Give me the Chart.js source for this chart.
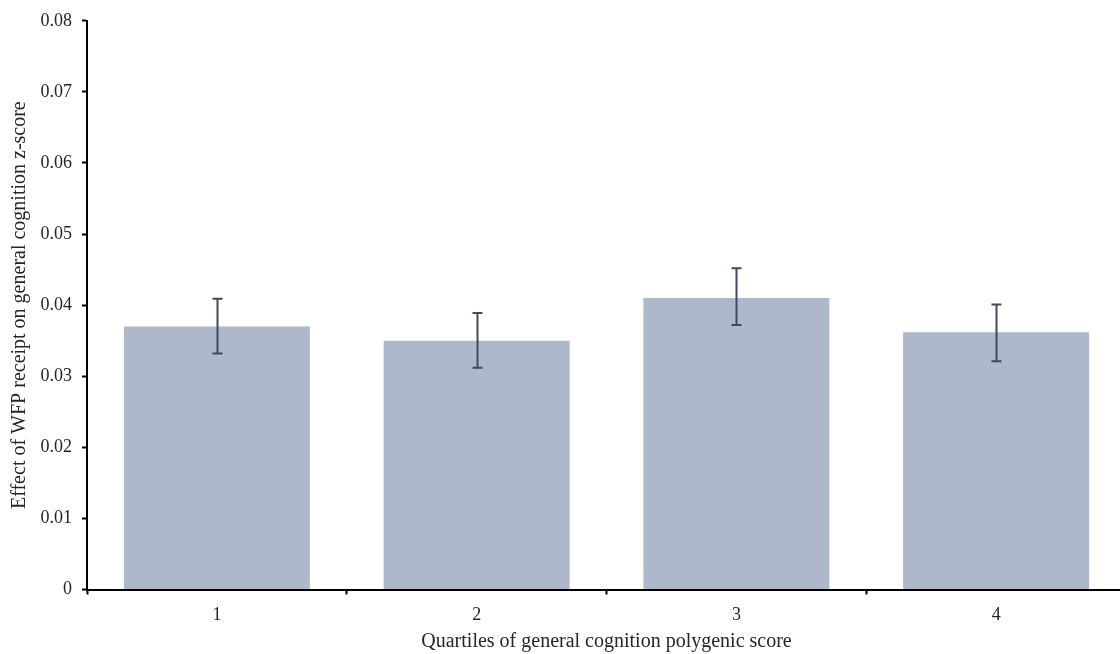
<!DOCTYPE html>
<html>
<head>
<meta charset="utf-8">
<script src="https://cdn.jsdelivr.net/npm/chart.js@4"></script>
<style>
  html, body { margin: 0; padding: 0; background: #fff; overflow: hidden; }
  #wrap { width: 1120px; height: 654px; overflow: hidden; }
  #box { width: 1128px; height: 654px; position: relative; }
</style>
</head>
<body>
<div id="wrap"><div id="box"><canvas id="c"></canvas></div></div>
<script>
const quartiles = ['1', '2', '3', '4'];
const effects = [0.0370, 0.0350, 0.0410, 0.0362];
const ciLow = [0.0332, 0.0312, 0.0372, 0.0321];
const ciHigh = [0.0409, 0.0389, 0.0452, 0.0401];
const yTicks = [0, 0.01, 0.02, 0.03, 0.04, 0.05, 0.06, 0.07, 0.08];

const serif = '"Liberation Serif", "Times New Roman", serif';
const ink = '#262626';

const errorBars = {
  id: 'errorBars',
  afterDatasetsDraw(chart) {
    const {ctx, scales} = chart;
    const meta = chart.getDatasetMeta(0);
    ctx.save();
    ctx.strokeStyle = '#3e4b60';
    ctx.lineWidth = 2;
    meta.data.forEach((bar, i) => {
      const x = Math.round(bar.x) + 0.5;
      const yHi = scales.y.getPixelForValue(ciHigh[i]);
      const yLo = scales.y.getPixelForValue(ciLow[i]);
      ctx.beginPath();
      ctx.moveTo(x, yHi);
      ctx.lineTo(x, yLo);
      ctx.moveTo(x - 5, yHi);
      ctx.lineTo(x + 5, yHi);
      ctx.moveTo(x - 5, yLo);
      ctx.lineTo(x + 5, yLo);
      ctx.stroke();
    });
    ctx.restore();
  }
};

new Chart(document.getElementById('c'), {
  type: 'bar',
  data: {
    labels: quartiles,
    datasets: [{
      data: effects,
      backgroundColor: '#adb8ca',
      borderWidth: 0,
      categoryPercentage: 0.716,
      barPercentage: 1
    }]
  },
  plugins: [errorBars],
  options: {
    responsive: true,
    maintainAspectRatio: false,
    animation: false,
    layout: {padding: {top: 19, right: 2, bottom: 0, left: 0}},
    plugins: {legend: {display: false}, tooltip: {enabled: false}},
    scales: {
      x: {
        offset: true,
        afterFit: s => { s.height = 64.5; },
        grid: {offset: true, drawOnChartArea: false, tickLength: 5, tickColor: '#000', tickWidth: 2},
        border: {color: '#000', width: 2},
        ticks: {color: ink, font: {family: serif, size: 18}, padding: 10},
        title: {display: true, text: 'Quartiles of general cognition polygenic score', color: ink, font: {family: serif, size: 20}, padding: {top: 0, bottom: 0}}
      },
      y: {
        min: 0,
        max: 0.08,
        afterFit: s => { s.width = 87; },
        afterBuildTicks: s => { s.ticks = yTicks.map(v => ({value: v})); },
        grid: {drawOnChartArea: false, tickLength: 5, tickColor: '#000', tickWidth: 2},
        border: {color: '#000', width: 2},
        ticks: {color: ink, font: {family: serif, size: 18}, padding: 10, callback: v => String(+v.toFixed(2))},
        title: {display: true, text: 'Effect of WFP receipt on general cognition z-score', color: ink, font: {family: serif, size: 20}, padding: {top: 8, bottom: 0}}
      }
    }
  }
});
</script>
</body>
</html>
